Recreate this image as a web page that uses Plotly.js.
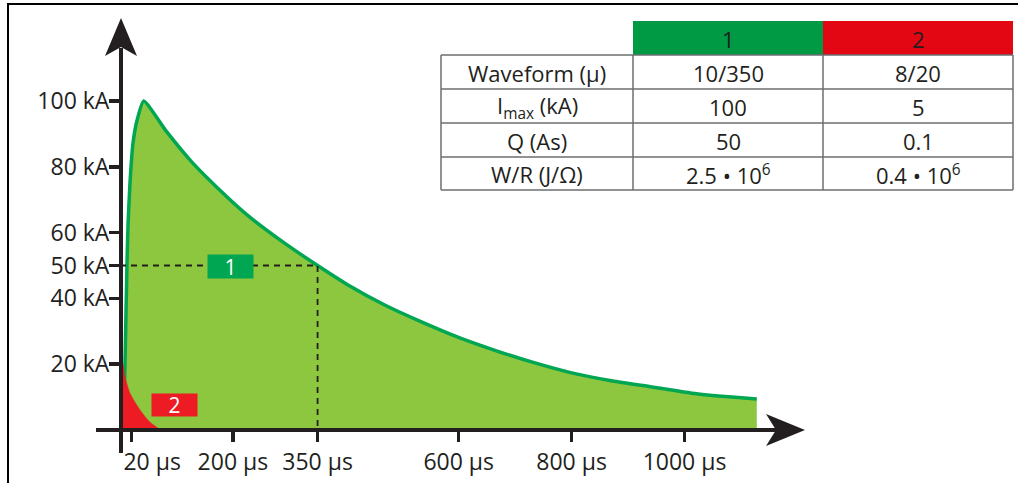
<!DOCTYPE html>
<html>
<head>
<meta charset="utf-8">
<script src="https://cdn.plot.ly/plotly-3.0.1.min.js"></script>
<style>html,body{margin:0;padding:0;background:#fff;}#chart{width:1018px;height:483px;}</style>
</head>
<body>
<div id="chart"></div>
<script>
// ---------- data ----------
// Waveform 1 (10/350 µs), current in kA vs time in µs
const wave1_t  = [6, 8.9, 12.4, 14.2, 17.7, 23, 30, 42, 83, 127, 177, 230, 289, 350, 404, 469, 535, 602, 668, 735, 802, 873, 942, 1013, 1084, 1128];
const wave1_kA = [0, 20.7, 50.8, 62.3, 75.1, 87.2, 94, 100, 90.6, 81.5, 72.9, 64.7, 57.1, 50, 44.1, 38.0, 32.8, 28.0, 24.0, 20.4, 17.3, 14.9, 13.1, 11.2, 10.0, 9.4];
// Waveform 2 (8/20 µs)
const wave2_t  = [0.5, 5, 8.9, 17.7, 35.4, 53, 67, 75];
const wave2_kA = [20.7, 20.3, 16.1, 11.2, 6.1, 2.4, 0.6, 0];
// half-value marker (50 kA at 350 µs)
const half_t  = [0, 350, 350];
const half_kA = [50, 50, 0];
// axis ticks
const xTickVals = [20, 200, 350, 600, 800, 1000];
const xTickText = ['\u00a0\u00a0\u00a0\u00a0\u00a0\u00a0\u00a020 µs', '200 µs', '350 µs', '600 µs', '800 µs', '1000 µs'];
const yTickVals = [20, 40, 50, 60, 80, 100];
const yTickText = ['20 kA', '40 kA', '50 kA', '60 kA', '80 kA', '100 kA'];
// table
const tableHeader = ['', '1', '2'];
const rowLabels = ['Waveform (µ)', 'I<sub>max</sub> (kA)', 'Q (As)', 'W/R (J/Ω)'];
const wave1Col = ['10/350', '100', '50', '2.5 • 10<sup>6</sup>'];
const wave2Col = ['8/20', '5', '0.1', '0.4 • 10<sup>6</sup>'];
const markerLabels = ['1', '2'];

// ---------- layout helpers ----------
const W = 1018, H = 483;
const X0 = 120, XS = 0.5645;   // px of t=0, px per µs
const Y0 = 430, YS = 3.29;     // px of 0 kA, px per kA
const tx = px => (px - X0) / XS;
const ky = py => (Y0 - py) / YS;
const PX = px => px / W, PY = py => 1 - py / H;
const FONT = '"Open Sans", "Noto Sans", sans-serif';
const INK = '#231f20';
const FS = 23;      // axis labels
const TFS = 22;     // table text

const traces = [
  {x: wave1_t, y: wave1_kA, type: 'scatter', mode: 'lines', fill: 'tozeroy',
   fillcolor: '#8dc63f', line: {color: '#00a651', width: 3.5, shape: 'spline', smoothing: 0.5},
   hoverinfo: 'skip', showlegend: false},
  {x: wave2_t, y: wave2_kA, type: 'scatter', mode: 'lines', fill: 'tozeroy',
   fillcolor: '#ed1c24', line: {color: '#ed1c24', width: 0.5, shape: 'spline', smoothing: 0.6},
   hoverinfo: 'skip', showlegend: false},
  {x: half_t, y: half_kA, type: 'scatter', mode: 'lines',
   line: {color: INK, width: 1.8, dash: '6px,5px'}, hoverinfo: 'skip', showlegend: false}
];

const pathOf = pts => 'M' + pts.map(p => tx(p[0]) + ',' + ky(p[1])).join('L') + 'Z';

const shapes = [
  // frame
  {type: 'line', xref: 'paper', yref: 'paper', x0: PX(8), x1: PX(8), y0: 0, y1: PY(3), line: {color: '#000', width: 2}},
  {type: 'line', xref: 'paper', yref: 'paper', x0: PX(7), x1: 1, y0: PY(4), y1: PY(4), line: {color: '#000', width: 2}},
  // y axis line + arrow
  {type: 'line', xref: 'x', yref: 'y', x0: tx(121), x1: tx(121), y0: ky(453), y1: ky(48), line: {color: INK, width: 4}},
  {type: 'path', xref: 'x', yref: 'y', path: pathOf([[121, 18], [137, 56], [121, 47], [105, 56]]), fillcolor: INK, line: {width: 0}},
  // x axis line + arrow
  {type: 'line', xref: 'x', yref: 'y', x0: tx(96), x1: tx(778), y0: 0, y1: 0, line: {color: INK, width: 4}},
  {type: 'path', xref: 'x', yref: 'y', path: pathOf([[805, 430], [766, 446], [776, 430], [766, 414]]), fillcolor: INK, line: {width: 0}}
];

const annotations = [
  {x: 195, y: 49.6, xref: 'x', yref: 'y', text: markerLabels[0], showarrow: false,
   bgcolor: '#00a651', width: 45, height: 23, borderpad: 0, font: {family: FONT, size: 21, color: '#fff'}},
  {x: 97, y: 7.6, xref: 'x', yref: 'y', text: markerLabels[1], showarrow: false,
   bgcolor: '#ed1c24', width: 45, height: 22, borderpad: 0, font: {family: FONT, size: 21, color: '#fff'}}
];

// ---------- table (cells drawn as shapes + text) ----------
const colEdges = [441, 633, 823, 1013];
const rowEdges = [21, 55, 89, 123, 157, 190];
const headerFill = ['#ffffff', '#009a44', '#e30613'];
const GRID = '#6d6e71';
for (let c = 1; c < 3; c++) {
  shapes.push({type: 'rect', xref: 'paper', yref: 'paper', layer: 'below',
    x0: PX(colEdges[c]), x1: PX(colEdges[c + 1]), y0: PY(rowEdges[1]), y1: PY(rowEdges[0]),
    fillcolor: headerFill[c], line: {width: 0}});
}
for (let r = 1; r < rowEdges.length; r++) {
  shapes.push({type: 'line', xref: 'paper', yref: 'paper',
    x0: PX(colEdges[0]), x1: PX(colEdges[3]), y0: PY(rowEdges[r]), y1: PY(rowEdges[r]),
    line: {color: GRID, width: 1.5}});
}
for (let c = 0; c < colEdges.length; c++) {
  shapes.push({type: 'line', xref: 'paper', yref: 'paper',
    x0: PX(colEdges[c]), x1: PX(colEdges[c]), y0: PY(rowEdges[5]), y1: PY(rowEdges[1]),
    line: {color: GRID, width: 1.5}});
}
const cellText = (txt, c, r) => ({
  xref: 'paper', yref: 'paper', showarrow: false, xanchor: 'center', yanchor: 'middle',
  x: PX((colEdges[c] + colEdges[c + 1]) / 2), y: PY((rowEdges[r] + rowEdges[r + 1]) / 2 + 1),
  text: txt, font: {family: FONT, size: TFS, color: INK}
});
tableHeader.forEach((t, c) => { if (t) annotations.push(cellText(t, c, 0)); });
[rowLabels, wave1Col, wave2Col].forEach((col, c) => col.forEach((t, r) => annotations.push(cellText(t, c, r + 1))));

const layout = {
  width: W, height: H,
  margin: {l: 0, r: 0, t: 0, b: 0, pad: 0},
  paper_bgcolor: '#fff', plot_bgcolor: 'rgba(0,0,0,0)',
  showlegend: false,
  font: {family: FONT, size: FS, color: INK},
  xaxis: {range: [tx(0), tx(W)], anchor: 'free', position: (H - Y0) / H,
    showgrid: false, zeroline: false, showline: false,
    tickmode: 'array', tickvals: xTickVals, ticktext: xTickText,
    ticks: 'outside', ticklen: 11, tickwidth: 3.5, tickcolor: INK,
    tickfont: {family: FONT, size: FS, color: INK}, fixedrange: true},
  yaxis: {range: [ky(H), ky(0)], anchor: 'free', position: X0 / W,
    showgrid: false, zeroline: false, showline: false,
    tickmode: 'array', tickvals: yTickVals, ticktext: yTickText,
    ticks: 'outside', ticklen: 11, tickwidth: 3.5, tickcolor: INK, ticklabelstandoff: -5,
    tickfont: {family: FONT, size: FS, color: INK}, fixedrange: true},
  shapes: shapes,
  annotations: annotations
};

Plotly.newPlot('chart', traces, layout, {displayModeBar: false, staticPlot: true});
</script>
</body>
</html>
